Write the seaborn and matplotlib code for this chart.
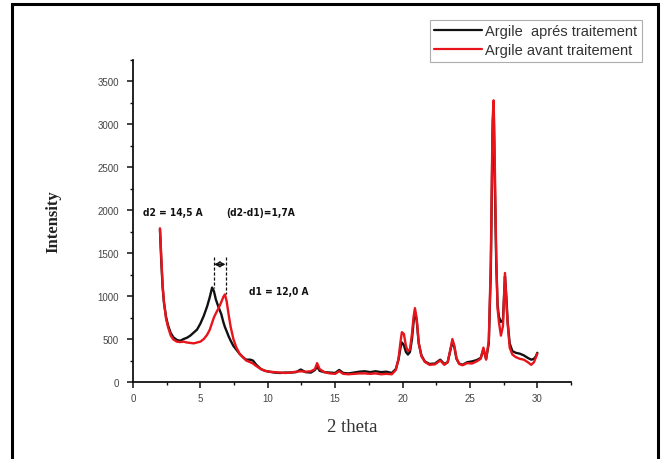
import matplotlib
matplotlib.use("Agg")
import matplotlib.pyplot as plt
from matplotlib.patches import Rectangle
from matplotlib.ticker import MultipleLocator
from matplotlib.lines import Line2D
import numpy as np
import pandas as pd
import seaborn as sns

# XRD patterns of the clay before / after treatment
two_theta = [
    2.0, 2.1, 2.2, 2.3, 2.45, 2.6, 2.8, 3.0, 3.25, 3.5,
    3.75, 4.0, 4.25, 4.5, 4.75, 5.0, 5.25, 5.5, 5.7, 5.87,
    6.0, 6.15, 6.35, 6.55, 6.7, 6.82, 6.95, 7.1, 7.25, 7.45,
    7.65, 7.9, 8.15, 8.4, 8.7, 8.9, 9.15, 9.5, 9.8, 10.1,
    10.5, 10.9, 11.3, 11.7, 12.1, 12.45, 12.8, 13.2, 13.5, 13.66,
    13.85, 14.2, 14.6, 15.0, 15.3, 15.6, 16.0, 16.4, 16.8, 17.2,
    17.6, 18.0, 18.4, 18.8, 19.2, 19.5, 19.7, 19.85, 19.95, 20.1,
    20.25, 20.4, 20.55, 20.7, 20.82, 20.92, 21.05, 21.2, 21.4, 21.65,
    22.0, 22.4, 22.8, 23.1, 23.35, 23.55, 23.7, 23.85, 24.0, 24.2,
    24.45, 24.8, 25.15, 25.5, 25.8, 26.0, 26.2, 26.4, 26.55, 26.68,
    26.76, 26.85, 26.95, 27.05, 27.15, 27.3, 27.45, 27.6, 27.7, 27.8,
    27.95, 28.15, 28.4, 28.7, 29.0, 29.3, 29.55, 29.75, 29.9, 30.0,
]

intensity_apres = [
    1780, 1400, 1100, 920, 760, 660, 570, 520, 490, 480,
    500, 515, 540, 575, 610, 680, 770, 880, 990, 1100,
    1060, 960, 870, 790, 700, 640, 590, 530, 480, 420,
    380, 330, 290, 260, 260, 250, 200, 150, 130, 120,
    110, 105, 110, 110, 115, 145, 115, 110, 140, 180,
    130, 115, 110, 105, 140, 105, 100, 110, 120, 125,
    115, 125, 115, 120, 105, 150, 260, 400, 460, 430,
    350, 320, 350, 500, 700, 820, 720, 450, 310, 240,
    210, 215, 260, 210, 230, 370, 470, 400, 270, 215,
    200, 230, 240, 255, 280, 380, 270, 450, 1300, 2900,
    3230, 2300, 1400, 900, 760, 700, 720, 1230, 1000, 700,
    450, 360, 340, 330, 310, 280, 260, 270, 300, 340,
]

intensity_avant = [
    1790, 1450, 1120, 930, 740, 640, 540, 495, 470, 465,
    470, 460, 455, 450, 460, 470, 500, 550, 610, 690,
    750, 800, 860, 930, 990, 1020, 940, 780, 640, 500,
    410, 330, 290, 250, 230, 215, 185, 150, 130, 120,
    115, 110, 105, 110, 120, 125, 120, 125, 150, 220,
    150, 115, 100, 95, 125, 95, 90, 95, 100, 100,
    95, 100, 90, 95, 90, 140, 270, 470, 580, 560,
    420, 360, 380, 560, 760, 860, 740, 460, 300, 235,
    200, 205, 250, 200, 230, 380, 500, 420, 280, 210,
    195, 220, 215, 240, 270, 400, 260, 480, 1400, 3050,
    3280, 2500, 1500, 860, 700, 540, 650, 1270, 950, 680,
    400, 320, 290, 270, 260, 230, 200, 230, 290, 330,
]

series_labels = ["Argile  aprés traitement", "Argile avant traitement"]
series_colors = ["#111111", "#e8141c"]

# peak positions for the basal spacing annotation
peak_d2 = (5.87, 1100)
peak_d1 = (6.82, 1020)

df = pd.concat([
    pd.DataFrame({"2 theta": two_theta, "Intensity": intensity_apres, "echantillon": series_labels[0]}),
    pd.DataFrame({"2 theta": two_theta, "Intensity": intensity_avant, "echantillon": series_labels[1]}),
])

sns.set_style("ticks")
plt.rcParams["font.family"] = ["Liberation Sans", "DejaVu Sans"]

W, H = 665, 460
fig = plt.figure(figsize=(W / 100, H / 100), dpi=100)
ax = fig.add_axes([133 / W, 1 - 383 / H, (571 - 133) / W, (383 - 61) / H])

sns.lineplot(data=df, x="2 theta", y="Intensity", hue="echantillon",
             palette=dict(zip(series_labels, series_colors)),
             linewidth=1.7, ax=ax, legend=False, sort=False, estimator=None)

ax.set_xlim(0, 32.5)
ax.set_ylim(0, 3750)
ax.xaxis.set_major_locator(MultipleLocator(5))
ax.xaxis.set_minor_locator(MultipleLocator(2.5))
ax.yaxis.set_major_locator(MultipleLocator(500))
ax.yaxis.set_minor_locator(MultipleLocator(250))
for side in ("top", "right"):
    ax.spines[side].set_visible(False)
for side in ("left", "bottom"):
    ax.spines[side].set_linewidth(1.3)
    ax.spines[side].set_color("#111111")
ax.tick_params(which="major", direction="out", length=4, width=1.1,
               labelsize=7, labelcolor="#444444", color="#111111", pad=4)
ax.tick_params(axis="y", which="major", pad=6)
ax.tick_params(which="minor", direction="out", length=2.5, width=1.0, color="#111111")

ax.set_xlabel("2 theta", family=["Liberation Serif", "DejaVu Serif"], fontsize=13.5,
              color="#333333", labelpad=11)
ax.set_ylabel("Intensity", family=["Liberation Serif", "DejaVu Serif"], fontsize=12,
              fontweight="bold", color="#222222", labelpad=26)

# basal spacing annotations
ann_font = dict(family=["DejaVu Sans"], fontstretch="condensed", fontweight="bold",
                fontsize=7.3, color="#111111")
ax.text(0.75, 1975, "d2 = 14,5 A", ha="left", va="center", **ann_font)
ax.text(6.9, 1975, "(d2-d1)=1,7A", ha="left", va="center", **ann_font)
ax.text(8.6, 1060, "d1 = 12,0 A", ha="left", va="center", **ann_font)

arrow_y = 1370
ax.annotate("", xy=(peak_d2[0] + 0.15, arrow_y), xytext=(peak_d1[0] + 0.05, arrow_y),
            arrowprops=dict(arrowstyle="<->", color="#111111", lw=1.1,
                            shrinkA=0, shrinkB=0, mutation_scale=8))
ax.plot([peak_d2[0] + 0.15, peak_d2[0] + 0.15], [arrow_y + 80, peak_d2[1]],
        ls=(0, (2.5, 1.5)), color="#111111", lw=0.9)
ax.plot([peak_d1[0] + 0.05, peak_d1[0] + 0.05], [arrow_y + 80, peak_d1[1]],
        ls=(0, (2.5, 1.5)), color="#111111", lw=0.9)

# legend above the plot, right side
handles = [Line2D([], [], color=c, lw=1.6) for c in series_colors]
leg = fig.legend(handles, series_labels, loc="upper right",
                 bbox_to_anchor=(641.5 / W, 1 - 21 / H), frameon=True, fancybox=False,
                 edgecolor="#9a9a9a", fontsize=10.5, handlelength=3.3, handletextpad=0.2,
                 labelspacing=0.35, borderpad=0.3, borderaxespad=0)
leg.get_frame().set_linewidth(0.8)
for t in leg.get_texts():
    t.set_color("#333333")

# outer frame
fig.add_artist(Rectangle((12 / W, -0.05), (658 - 12) / W, 1.05 - 5 / H,
                         transform=fig.transFigure, fill=False,
                         edgecolor="black", linewidth=2.2))

fig.savefig("out.png", dpi=100)
